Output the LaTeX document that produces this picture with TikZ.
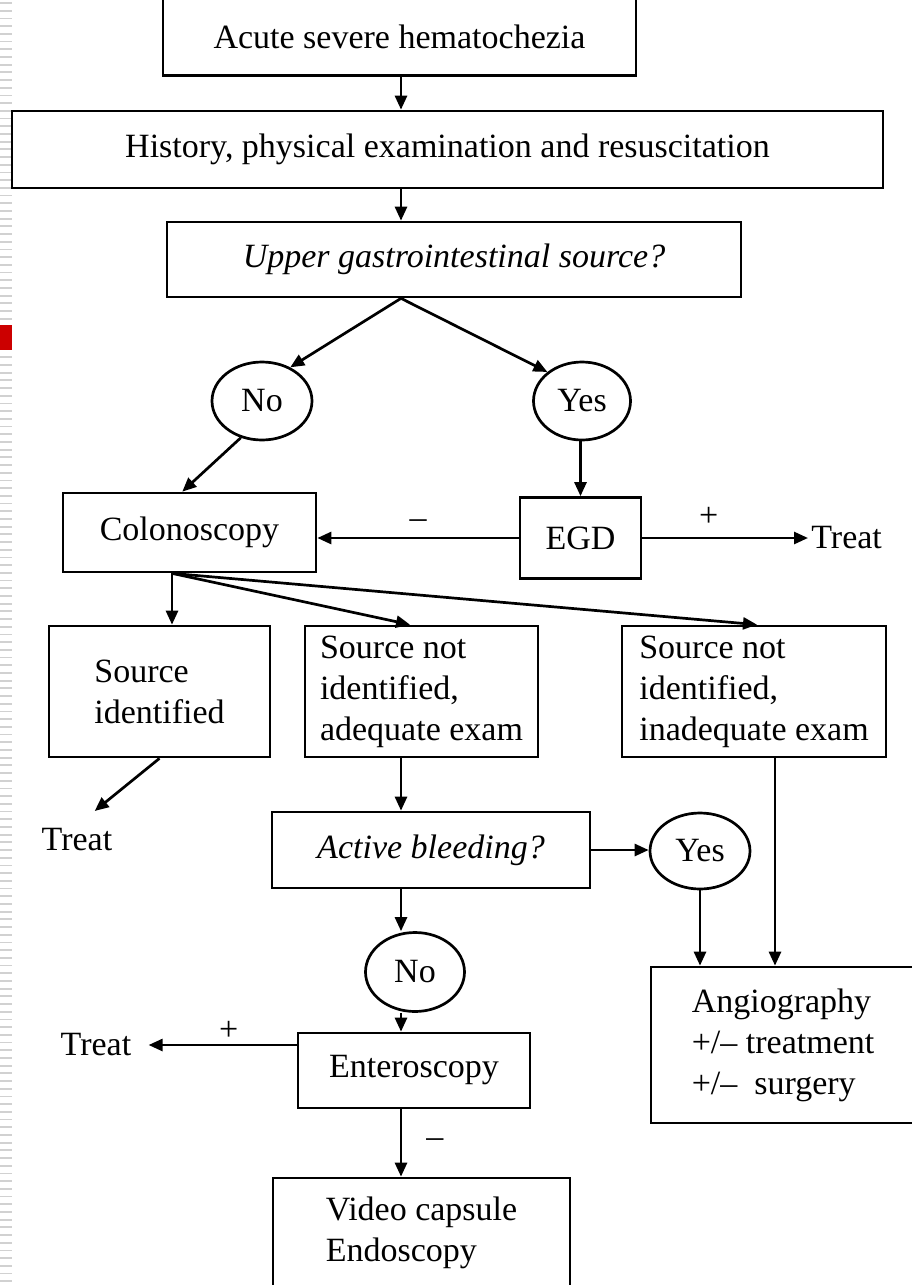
\documentclass[tikz,border=0pt]{standalone}
\usepackage{fontspec}
\setmainfont{Liberation Serif}
\usetikzlibrary{arrows.meta,shapes.geometric}
\newcommand{\flowfont}{\fontsize{17pt}{20.5pt}\selectfont}

\begin{document}
\begin{tikzpicture}[x=0.5pt, y=-0.5pt, >={Triangle[length=7pt,width=6pt]}, line width=1.35pt]
\tikzset{
  box/.style={draw, rectangle, inner sep=0pt, align=left, font=\flowfont},
  oval/.style={draw, ellipse, inner sep=0pt, font=\flowfont},
  plain/.style={inner sep=1pt, font=\flowfont},
  sgn/.style={inner sep=1pt, font=\flowfont},
  arr/.style={->},
  stripe/.style={line width=0.9pt, black!18}
}
\useasboundingbox (0,0) rectangle (911,1285);
% ---------- slide margin ----------
\foreach \k in {0,...,166}
  \draw[stripe] (0,3+7.7*\k) -- (12,3+7.7*\k);
\fill[red!80!black] (0,325) rectangle (12,350);
% ---------- top of the chart ----------
\coordinate (spine) at (401,0);
\node[box, minimum width=236.5pt, minimum height=39pt] (acute) at (399.5,36.5) {Acute severe hematochezia};
\node[box, minimum width=435.5pt, minimum height=38.5pt] (hist) at (447.5,149.5) {History, physical examination and resuscitation};
\node[box, minimum width=287pt, minimum height=37.5pt] (upper) at (454,259.5) {\itshape Upper gastrointestinal source?};
\node[oval, minimum width=50pt, minimum height=39pt] (no1) at (262,401) {No};
\node[oval, minimum width=48.5pt, minimum height=39pt] (yes1) at (582,401) {Yes};
\draw[arr] (acute.south -| spine) -- (hist.north -| spine);
\draw[arr] (hist.south -| spine) -- (upper.north -| spine);
\draw[arr] (upper.south -| spine) -- (no1.50);
\draw[arr] (upper.south -| spine) -- (yes1.140);
% ---------- colonoscopy / EGD ----------
\node[box, minimum width=126.5pt, minimum height=39.5pt] (colon) at (189.5,532.5) {Colonoscopy};
\node[box, minimum width=60.5pt, minimum height=40.5pt] (egd) at (580.5,538) {EGD};
\node[plain, anchor=west] (treat1) at (808,538) {Treat};
\draw[arr] (no1.240) -- (colon.100);
\draw[arr] (egd.north |- yes1.south) -- (egd.north);
\draw[arr] (egd.west) -- (egd.west -| colon.east) node[midway, above=3pt, sgn] {–};
\draw[arr] (egd.east) -- (treat1.west) node[pos=0.4, above=4pt, sgn] {+};
% ---------- colonoscopy results ----------
\node[box, minimum width=110.5pt, minimum height=65.5pt] (srcid) at (159.5,691.5) {Source\\identified};
\node[box, minimum width=116.5pt, minimum height=65.5pt] (srcnot) at (421.5,691.5) {Source not\\identified,\\adequate exam};
\node[box, minimum width=132pt, minimum height=65.5pt] (srcinad) at (754,691.5) {Source not\\identified,\\inadequate exam};
\node[plain] (treat2) at (77,840) {Treat};
\coordinate (fork) at ([xshift=-8.75pt]colon.south);
\draw[arr] (fork) -- (fork |- srcid.north);
\draw[arr] (fork) -- ([xshift=-5.75pt]srcnot.north);
\draw[arr] (fork) -- ([xshift=1.5pt]srcinad.north);
\draw[arr, shorten >=11.4pt] (srcid.south) -- (treat2.north);
% ---------- active bleeding ----------
\node[box, minimum width=159pt, minimum height=38pt] (active) at (431,850) {\itshape Active bleeding?};
\node[oval, minimum width=50pt, minimum height=38pt] (yes2) at (700,851) {Yes};
\node[oval, minimum width=49.5pt, minimum height=39.5pt] (no2) at (415,972) {No};
\node[box, minimum width=132pt, minimum height=78pt] (angio) at (783,1045) {Angiography\\+/– treatment\\+/–\ \ surgery};
\draw[arr] (srcnot.south -| spine) -- (active.north -| spine);
\draw[arr] (active.east) -- (active.east -| yes2.west);
\draw[arr] (yes2.south) -- (yes2.south |- angio.north);
\draw[arr] ([xshift=10.5pt]srcinad.south) -- ([xshift=10.5pt]srcinad.south |- angio.north);
% ---------- enteroscopy ----------
\node[box, minimum width=116pt, minimum height=37.5pt] (entero) at (414,1070.5) {Enteroscopy};
\node[plain] (treat3) at (96,1045) {Treat};
\node[box, minimum width=148.5pt, minimum height=55pt] (video) at (421.5,1233) {Video capsule\\Endoscopy};
\draw[arr] (active.south -| spine) -- (no2.north -| spine);
\draw[arr] (no2.south -| spine) -- (entero.north -| spine);
\draw[arr, shorten >=7pt] ([yshift=12.75pt]entero.west) -- (treat3.east) node[pos=0.42, above=0.5pt, sgn] {+};
\draw[arr] (entero.south -| spine) -- (video.north -| spine) node[midway, right=11pt, sgn] {–};
\end{tikzpicture}
\end{document}
